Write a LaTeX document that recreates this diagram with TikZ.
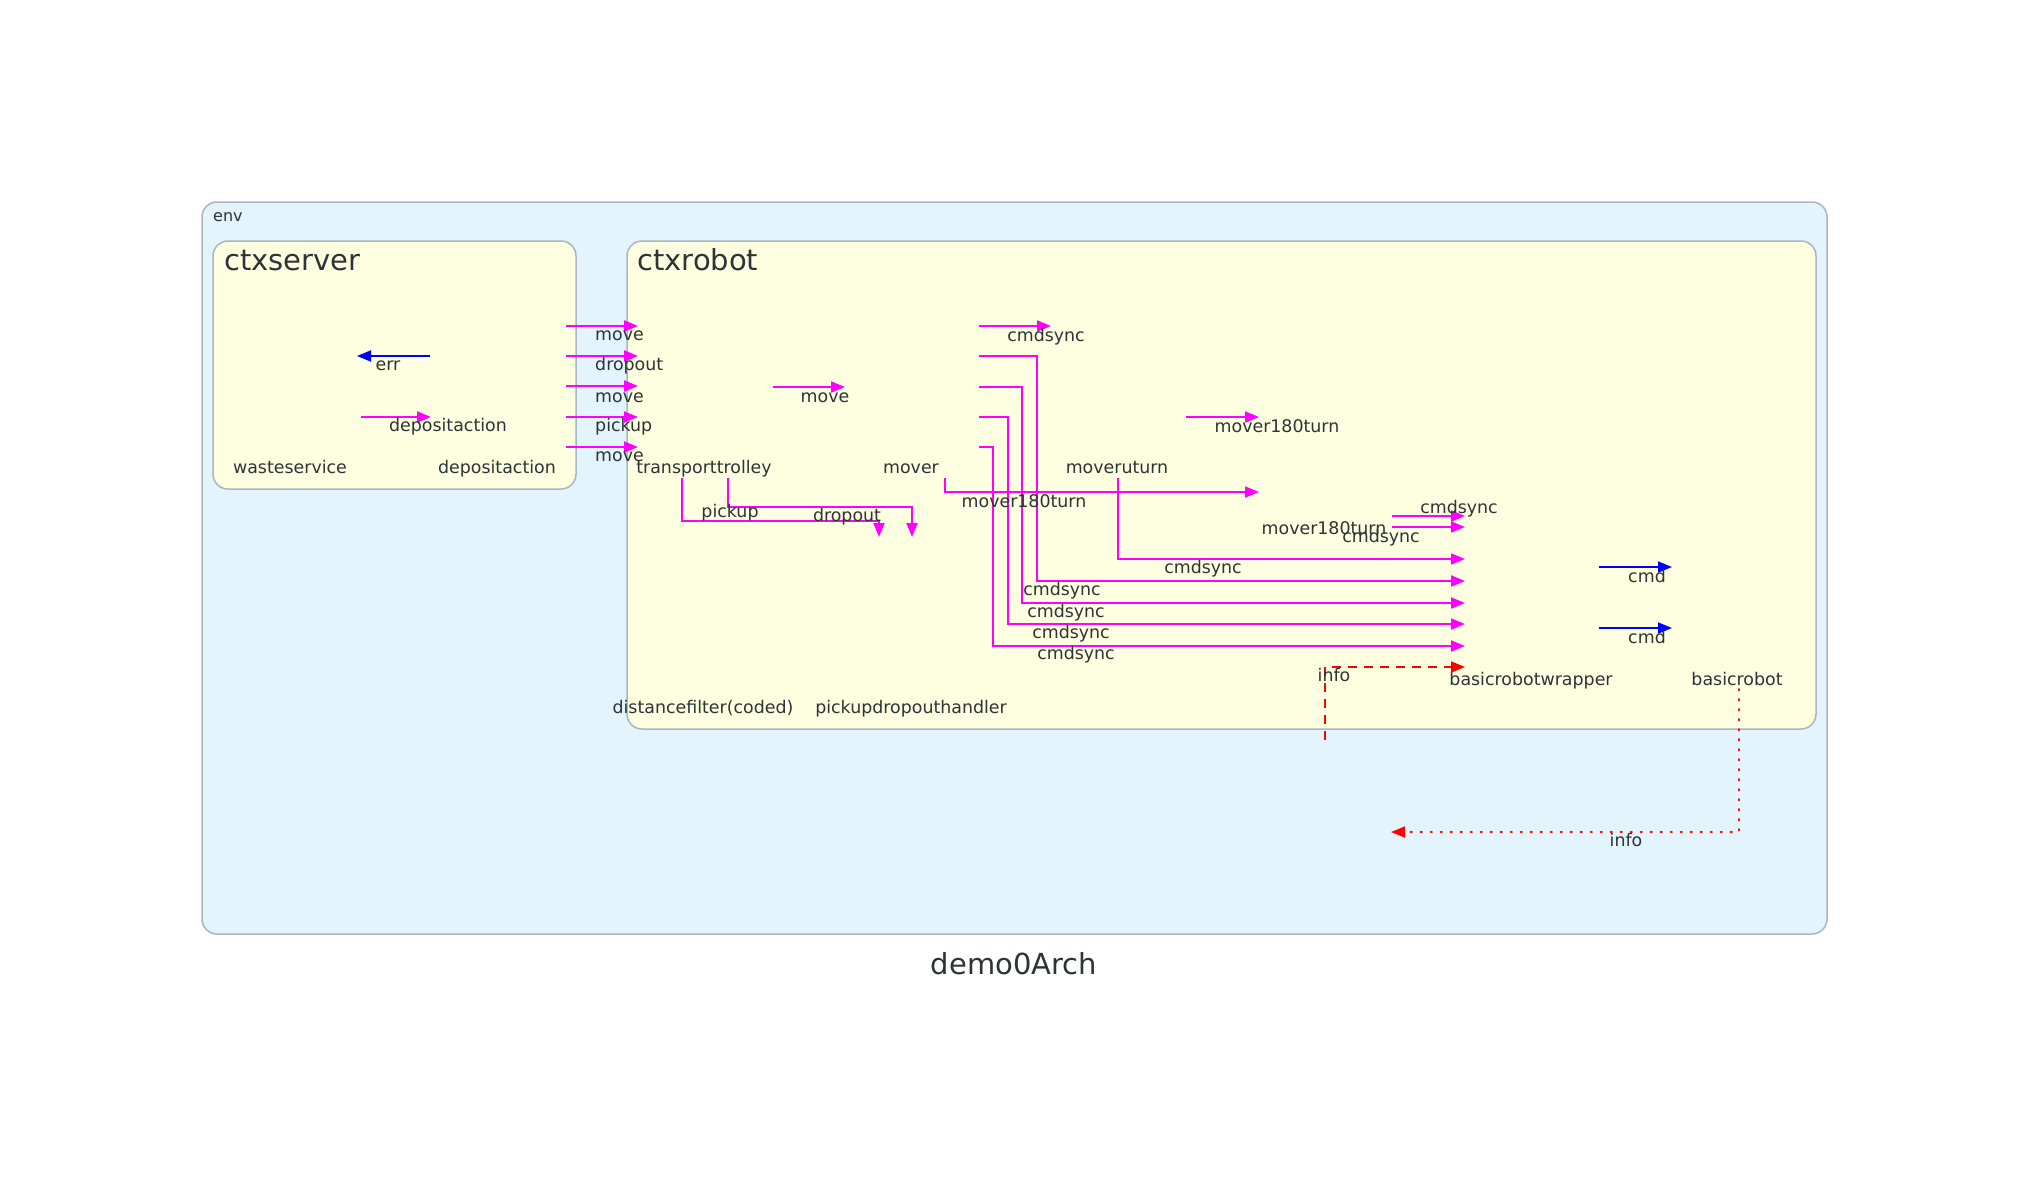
\documentclass[tikz,border=0pt]{standalone}
\usepackage{fontspec}
\setmainfont{DejaVu Sans}
\usetikzlibrary{arrows.meta}
\definecolor{envfill}{HTML}{E3F4FC}
\definecolor{ctxfill}{HTML}{FEFEE0}
\definecolor{boxline}{HTML}{AAB6C2}
\definecolor{txt}{HTML}{2D3436}
\definecolor{mag}{HTML}{FF00FF}
\definecolor{blu}{HTML}{0000FF}
\definecolor{rd}{HTML}{FF0000}
\tikzset{
  lbl/.style={anchor=base, inner sep=0pt, text=txt, font=\fontsize{17.4}{20}\selectfont},
  lbll/.style={lbl, anchor=base west},
  bigl/.style={anchor=base west, inner sep=0pt, text=txt, font=\fontsize{29}{33}\selectfont},
  cluster/.style={draw=boxline, line width=1.5pt, rounded corners=15pt},
  tip/.style={-{Triangle[length=14pt,width=11pt]}},
  medge/.style={tip, draw=mag, line width=2pt},
  bedge/.style={tip, draw=blu, line width=1.8pt},
  redge/.style={tip, draw=rd, line width=1.8pt},
}
\begin{document}
\begin{tikzpicture}[x=1pt,y=-1pt]
\useasboundingbox[fill=white] (0,0) rectangle (2029,1180);
% clusters
\draw[cluster, fill=envfill] (202,202) rectangle (1827,934);
\draw[cluster, fill=ctxfill] (213,241) rectangle (576,489);
\draw[cluster, fill=ctxfill] (627,241) rectangle (1816,729);
\node[lbll, font=\fontsize{16}{19}\selectfont] (envl) at (213,221) {env};
\node[bigl] (ctxsl) at (224,270) {ctxserver};
\node[bigl] (ctxrl) at (637,270) {ctxrobot};
\node[anchor=base, inner sep=0pt, text=txt, font=\fontsize{29}{33}\selectfont] (title) at (1014,974) {demo0Arch};
% node labels
\node[lbl] (ws) at (290,473) {wasteservice};
\node[lbl] (da) at (497,473) {depositaction};
\node[lbl] (tt) at (704,473) {transporttrolley};
\node[lbl] (mv) at (911,473) {mover};
\node[lbl] (mu) at (1117,473) {moveruturn};
\node[lbl] (df) at (703,713) {distancefilter(coded)};
\node[lbl] (pd) at (911,713) {pickupdropouthandler};
\node[lbl] (brw) at (1531,685) {basicrobotwrapper};
\node[lbl] (br) at (1737,685) {basicrobot};
% coordinates
\coordinate (e1a) at (430,356); \coordinate (e1b) at (357,356);
\coordinate (e2a) at (361,417); \coordinate (e2b) at (431,417);
\foreach \i/\y in {1/326,2/356,3/386,4/417,5/447}{
  \coordinate (sa\i) at (566,\y); \coordinate (sb\i) at (638,\y);
}
\coordinate (m1a) at (773,387); \coordinate (m1b) at (845,387);
\coordinate (c0a) at (979,326); \coordinate (c0b) at (1051,326);
\coordinate (c1a) at (979,356); \coordinate (c1b) at (1465,581);
\coordinate (c2a) at (979,387); \coordinate (c2b) at (1465,603);
\coordinate (c3a) at (979,417); \coordinate (c3b) at (1465,624);
\coordinate (c4a) at (979,447); \coordinate (c4b) at (1465,646);
\coordinate (t1a) at (1186,417); \coordinate (t1b) at (1259,417);
\coordinate (mva) at (945,478); \coordinate (mvb) at (1259,492);
\coordinate (mua) at (1118,478); \coordinate (mub) at (1465,559);
\coordinate (s1a) at (1392,516); \coordinate (s1b) at (1465,516);
\coordinate (s2a) at (1392,527); \coordinate (s2b) at (1465,527);
\coordinate (pka) at (682,478); \coordinate (pkb) at (879,537);
\coordinate (dra) at (728,478); \coordinate (drb) at (912,537);
\coordinate (cm1a) at (1599,567); \coordinate (cm1b) at (1672,567);
\coordinate (cm2a) at (1599,628); \coordinate (cm2b) at (1672,628);
\coordinate (ifa) at (1325,740); \coordinate (ifb) at (1465,667);
\coordinate (ig) at (1739,689); \coordinate (igb) at (1391,832);
% edges
\draw[bedge] (e1a) -- (e1b);
\draw[medge] (e2a) -- (e2b);
\foreach \i in {1,...,5}{ \draw[medge] (sa\i) -- (sb\i); }
\draw[medge] (m1a) -- (m1b);
\draw[medge] (c0a) -- (c0b);
\draw[medge] (c1a) -- (1037,356) -- (1037,581) -- (c1b);
\draw[medge] (c2a) -- (1022,387) -- (1022,603) -- (c2b);
\draw[medge] (c3a) -- (1008,417) -- (1008,624) -- (c3b);
\draw[medge] (c4a) -- (993,447) -- (993,646) -- (c4b);
\draw[medge] (t1a) -- (t1b);
\draw[medge] (mva) |- (mvb);
\draw[medge] (mua) |- (mub);
\draw[medge] (s1a) -- (s1b);
\draw[medge] (s2a) -- (s2b);
\draw[medge] (pka) -- (682,521) -- (879,521) -- (pkb);
\draw[medge] (dra) -- (728,507) -- (912,507) -- (drb);
\draw[bedge] (cm1a) -- (cm1b);
\draw[bedge] (cm2a) -- (cm2b);
\draw[redge, dash pattern=on 9pt off 7pt] (ifa) |- (ifb);
\draw[redge, line cap=round, dash pattern=on 1.5pt off 8.5pt] (ig) |- (igb);
% edge labels
\node[lbl] at (388,370) {err};
\node[lbl] at (448,431) {depositaction};
\node[lbll] at (595,340) {move};
\node[lbll] at (595,370) {dropout};
\node[lbll] at (595,402) {move};
\node[lbll] at (595,431) {pickup};
\node[lbll] at (595,461) {move};
\node[lbl] at (825,402) {move};
\node[lbl] at (1046,341) {cmdsync};
\node[lbl] at (1277,432) {mover180turn};
\node[lbl] at (1024,507) {mover180turn};
\node[lbl] at (730,517) {pickup};
\node[lbl] at (847,521) {dropout};
\node[lbl] at (1459,513) {cmdsync};
\node[lbl] at (1324,534) {mover180turn};
\node[lbl] at (1381,542) {cmdsync};
\node[lbl] at (1203,573) {cmdsync};
\node[lbl] at (1062,595) {cmdsync};
\node[lbl] at (1066,617) {cmdsync};
\node[lbl] at (1071,638) {cmdsync};
\node[lbl] at (1076,659) {cmdsync};
\node[lbl] at (1647,582) {cmd};
\node[lbl] at (1647,643) {cmd};
\node[lbl] at (1334,681) {info};
\node[lbl] at (1626,846) {info};
\end{tikzpicture}
\end{document}
